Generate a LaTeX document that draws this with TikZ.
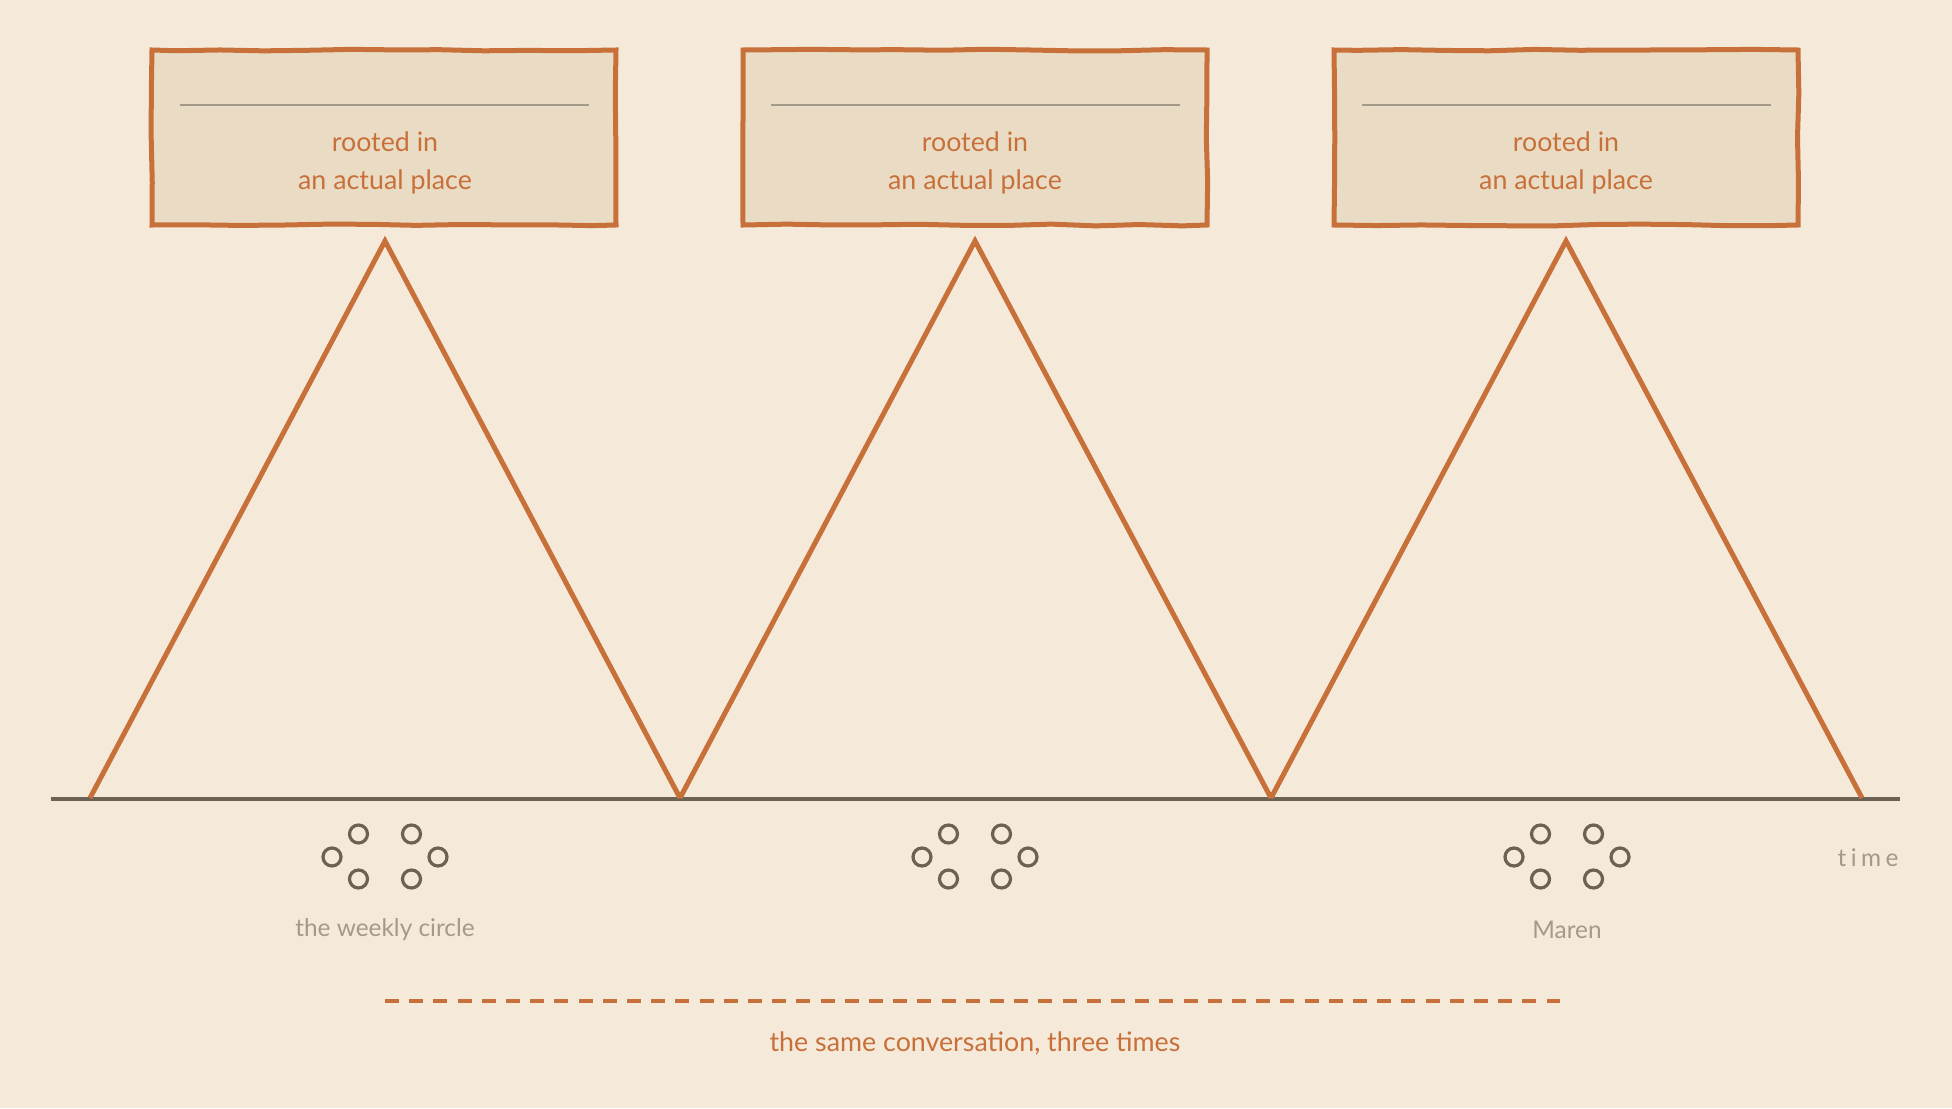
\documentclass[tikz,border=0pt]{standalone}
\usepackage{fontspec}
\setmainfont{Lato}
\usetikzlibrary{decorations.pathmorphing}
\definecolor{PaperBg}{HTML}{F5EAD9}
\definecolor{BoxFill}{HTML}{EADCC4}
\definecolor{Rust}{HTML}{C8703A}
\definecolor{Ink}{HTML}{6B6254}
\definecolor{Faded}{HTML}{A39A8A}
\tikzset{
  placebox/.style={draw=Rust,fill=BoxFill,line width=2.5pt,minimum width=232pt,minimum height=87.5pt,
    decorate,decoration={random steps,segment length=22pt,amplitude=0.45pt}},
  boxrule/.style={draw=Faded,line width=1pt},
  boxtext/.style={text=Rust,font=\fontsize{13.4}{19}\selectfont,align=center},
  peak/.style={draw=Rust,line width=2.5pt,line join=miter},
  timeline/.style={draw=Ink,line width=2pt},
  seat/.style={circle,draw=Ink,line width=1.6pt,minimum size=9pt,inner sep=0pt},
  grouplabel/.style={text=Faded,font=\fontsize{12.2}{14}\selectfont},
  thread/.style={draw=Rust,line width=1.6pt,dash pattern=on 7pt off 5.1pt},
  threadlabel/.style={text=Rust,font=\fontsize{13.4}{15}\selectfont}
}
\begin{document}
\begin{tikzpicture}[x=0.5pt,y=-0.5pt]
\pgfmathsetseed{7}
\fill[PaperBg] (0,0) rectangle (1952,1108);
\useasboundingbox (0,0) rectangle (1952,1108);
% boxes
\node[placebox] (box1) at (384,137.5) {};
\node[placebox] (box2) at (975,137.5) {};
\node[placebox] (box3) at (1566,137.5) {};
\draw[boxrule] (180,105) -- (589,105);
\draw[boxrule] (771,105) -- (1180,105);
\draw[boxrule] (1362,105) -- (1771,105);
\node[boxtext] (place1) at (385,163) {rooted in\\an actual place};
\node[boxtext] (place2) at (975,163) {rooted in\\an actual place};
\node[boxtext] (place3) at (1566,163) {rooted in\\an actual place};
% axis
\coordinate (axisL) at (51,799);
\coordinate (axisR) at (1900,799);
\draw[timeline] (axisL) -- (axisR);
% peaks
\coordinate (b0) at (90,798);
\coordinate (b1) at (680,798);
\coordinate (b2) at (1271,798);
\coordinate (b3) at (1862,798);
\coordinate (top1) at (385,241);
\coordinate (top2) at (975,241);
\coordinate (top3) at (1566,241);
\draw[peak] (b0) -- (top1) -- (b1);
\draw[peak] (b1) -- (top2) -- (b2);
\draw[peak] (b2) -- (top3) -- (b3);
% circles of people
\foreach \g/\cx in {1/385,2/975,3/1567}{
  \node[seat] (s\g a) at (\cx-26.5,834) {};
  \node[seat] (s\g b) at (\cx+26.5,834) {};
  \node[seat] (s\g c) at (\cx-53,857) {};
  \node[seat] (s\g d) at (\cx+53,857) {};
  \node[seat] (s\g e) at (\cx-26.5,879) {};
  \node[seat] (s\g f) at (\cx+26.5,879) {};
}
\node[grouplabel] (circle1) at (385,930) {the weekly circle};
\node[grouplabel] (circle3) at (1567,930) {Maren};
\node[grouplabel] (timelabel) at (1868,858) {\addfontfeatures{LetterSpace=18,Ligatures=NoCommon}time};
% same conversation
\coordinate (threadL) at (385,1001);
\coordinate (threadR) at (1560,1001);
\draw[thread] (threadL) -- (threadR);
\node[threadlabel] (samelabel) at (975,1043) {the same conversation, three times};
\end{tikzpicture}
\end{document}
